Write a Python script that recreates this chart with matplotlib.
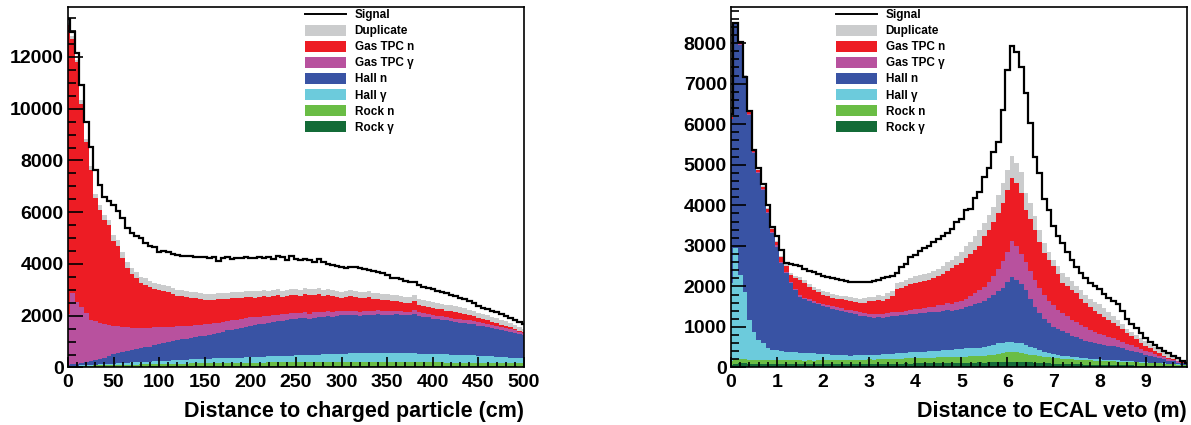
import numpy as np
import matplotlib as mpl
mpl.use('Agg')
import matplotlib.pyplot as plt
from matplotlib.patches import Patch
from matplotlib.lines import Line2D
from matplotlib.ticker import MultipleLocator

plt.rcParams['font.family'] = ['Liberation Sans', 'DejaVu Sans']
plt.rcParams['font.weight'] = 'bold'

# left panel: distance to charged particle, 5 cm bins centred on 0, 5, ... 500
# values are the upper edge of each stacked layer
L_signal = [13450, 12950, 12150, 10900, 9500, 8520, 7630, 7070, 6580, 6420,
            6290, 6060, 5770, 5380, 5190, 5100, 4990, 4800, 4710, 4670,
            4470, 4510, 4450, 4370, 4350, 4320, 4300, 4310, 4280, 4260,
            4270, 4240, 4260, 4110, 4250, 4270, 4200, 4230, 4250, 4270,
            4220, 4240, 4260, 4230, 4280, 4200, 4290, 4260, 4140, 4300,
            4180, 4160, 4200, 4160, 4080, 4190, 4070, 4000, 3960, 3920,
            3880, 3860, 3900, 3880, 3830, 3800, 3760, 3720, 3700, 3650,
            3560, 3460, 3440, 3420, 3340, 3300, 3320, 3200, 3100, 3060,
            3020, 2960, 2900, 2860, 2820, 2760, 2700, 2640, 2560, 2480,
            2380, 2310, 2250, 2190, 2130, 2080, 2000, 1930, 1840, 1760,
            1690]
L_dup = [13310, 12800, 11900, 10320, 8830, 7780, 6700, 6290, 5900, 5700,
         5120, 4930, 4470, 4090, 3830, 3700, 3500, 3440, 3330, 3280,
         3230, 3180, 3130, 3080, 3000, 2980, 2940, 2920, 2900, 2860,
         2830, 2850, 2840, 2870, 2890, 2880, 2910, 2930, 2920, 2950,
         2960, 2940, 2970, 2990, 2950, 2990, 3020, 2970, 3010, 3030,
         3050, 3010, 3060, 3020, 3040, 3070, 2990, 3030, 3000, 2950,
         2930, 2970, 2980, 2950, 2910, 2930, 2940, 2870, 2880, 2850,
         2830, 2790, 2800, 2760, 2730, 2710, 2790, 2630, 2610, 2580,
         2520, 2480, 2470, 2420, 2400, 2360, 2320, 2280, 2240, 2200,
         2100, 2060, 2020, 1960, 1900, 1840, 1780, 1720, 1640, 1560,
         1500]
L_gas_n = [13250, 12700, 11800, 10200, 8700, 7650, 6550, 6100, 5700, 5500,
           4900, 4700, 4250, 3850, 3600, 3450, 3280, 3200, 3100, 3050,
           3000, 2950, 2900, 2850, 2780, 2750, 2720, 2700, 2680, 2640,
           2600, 2620, 2610, 2640, 2660, 2650, 2680, 2700, 2690, 2720,
           2730, 2700, 2740, 2760, 2720, 2760, 2790, 2740, 2780, 2800,
           2820, 2780, 2830, 2790, 2810, 2840, 2760, 2800, 2770, 2720,
           2700, 2740, 2750, 2720, 2680, 2700, 2710, 2640, 2650, 2620,
           2600, 2560, 2570, 2530, 2500, 2480, 2560, 2400, 2380, 2350,
           2300, 2260, 2250, 2200, 2180, 2140, 2100, 2060, 2020, 1980,
           1920, 1880, 1830, 1770, 1720, 1660, 1600, 1550, 1480, 1420,
           1380]
L_gas_g = [2050, 2880, 2550, 2330, 2100, 1850, 1780, 1720, 1680, 1650,
           1620, 1600, 1580, 1560, 1540, 1520, 1520, 1520, 1540, 1550,
           1560, 1560, 1580, 1580, 1590, 1620, 1610, 1620, 1640, 1660,
           1680, 1690, 1710, 1730, 1770, 1810, 1820, 1850, 1880, 1910,
           1940, 1950, 1970, 1980, 2000, 2020, 2040, 2050, 2070, 2090,
           2100, 2120, 2130, 2080, 2140, 2145, 2160, 2180, 2150, 2180,
           2190, 2190, 2190, 2190, 2160, 2180, 2200, 2190, 2210, 2180,
           2190, 2180, 2190, 2170, 2160, 2160, 2210, 2130, 2100, 2070,
           2010, 2000, 1980, 1950, 1920, 1870, 1860, 1840, 1820, 1790,
           1740, 1720, 1670, 1650, 1600, 1550, 1520, 1480, 1430, 1380,
           1340]
L_hall_n = [100, 120, 150, 180, 220, 260, 300, 340, 380, 430,
            520, 550, 590, 620, 660, 710, 740, 780, 810, 860,
            910, 940, 980, 1010, 1050, 1100, 1110, 1140, 1170, 1200,
            1230, 1260, 1300, 1330, 1380, 1430, 1460, 1500, 1540, 1580,
            1620, 1640, 1670, 1690, 1720, 1750, 1780, 1800, 1830, 1860,
            1880, 1900, 1920, 1880, 1930, 1945, 1970, 1980, 1960, 2000,
            2010, 2020, 2010, 2020, 2000, 2010, 2040, 2030, 2060, 2020,
            2040, 2030, 2050, 2020, 2020, 2010, 2070, 1990, 1960, 1940,
            1880, 1860, 1850, 1820, 1790, 1750, 1730, 1720, 1700, 1670,
            1620, 1600, 1560, 1530, 1490, 1440, 1410, 1370, 1330, 1280,
            1240]
L_hall_g = [50, 60, 70, 80, 90, 100, 110, 120, 130, 140,
            150, 165, 170, 180, 195, 200, 210, 225, 230, 240,
            250, 260, 270, 280, 290, 300, 305, 315, 320, 330,
            340, 345, 350, 355, 365, 365, 375, 380, 380, 390,
            395, 405, 410, 415, 425, 430, 440, 445, 450, 460,
            465, 470, 480, 485, 490, 500, 505, 510, 520, 525,
            530, 535, 545, 545, 555, 550, 555, 550, 560, 555,
            555, 555, 555, 555, 545, 545, 545, 535, 535, 530,
            525, 515, 515, 505, 500, 490, 490, 480, 470, 465,
            455, 450, 440, 430, 420, 410, 400, 385, 375, 360,
            350]
L_rock_n = [50, 55, 60, 65, 70, 75, 80, 85, 90, 95,
            100, 105, 105, 110, 115, 115, 120, 125, 125, 130,
            130, 135, 140, 140, 145, 150, 150, 155, 160, 160,
            165, 165, 170, 170, 175, 175, 180, 180, 180, 185,
            185, 190, 190, 190, 195, 195, 200, 200, 200, 205,
            205, 205, 210, 210, 210, 215, 215, 215, 220, 220,
            220, 220, 225, 220, 225, 220, 220, 215, 220, 215,
            215, 210, 215, 210, 205, 210, 205, 200, 205, 200,
            200, 195, 195, 190, 190, 185, 190, 185, 180, 180,
            175, 180, 175, 170, 170, 165, 170, 165, 160, 160,
            155]
L_rock_g = [20, 25, 25, 30, 25, 30, 30, 35, 30, 35,
            35, 30, 35, 40, 35, 35, 40, 35, 40, 40,
            40, 35, 40, 45, 40, 40, 45, 40, 45, 40,
            45, 40, 45, 45, 40, 45, 50, 45, 45, 50,
            45, 50, 45, 50, 50, 45, 50, 50, 55, 50,
            50, 55, 50, 55, 50, 50, 55, 50, 55, 50,
            55, 50, 50, 55, 50, 55, 50, 50, 55, 50,
            50, 55, 50, 50, 45, 50, 50, 45, 50, 45,
            50, 45, 45, 50, 45, 45, 40, 45, 45, 40,
            45, 40, 40, 45, 40, 40, 35, 40, 40, 35,
            40]

# right panel: distance to ECAL veto, 0.1 m bins centred on 0.0 ... 9.9
R_signal = [6250, 8500, 8030, 7170, 6330, 5360, 4910, 4520, 4000, 3470,
            3240, 2900, 2570, 2560, 2540, 2500, 2430, 2380, 2350, 2300,
            2250, 2230, 2200, 2190, 2170, 2130, 2100, 2100, 2120, 2100,
            2110, 2140, 2170, 2200, 2240, 2260, 2320, 2480, 2550, 2720,
            2780, 2870, 2950, 2990, 3090, 3170, 3240, 3320, 3420, 3600,
            3650, 3880, 3900, 4180, 4330, 4710, 4910, 5320, 5570, 6360,
            7330, 7930, 7780, 7410, 6760, 6020, 5200, 4790, 4150, 3890,
            3480, 3250, 3070, 2850, 2660, 2480, 2330, 2200, 2090, 2000,
            1925, 1820, 1720, 1640, 1560, 1400, 1190, 1080, 980, 850,
            720, 640, 560, 480, 410, 350, 290, 230, 170, 120]
R_dup = [6200, 8520, 8020, 7220, 6320, 5360, 4880, 4480, 3930, 3450,
         3130, 2760, 2550, 2340, 2260, 2220, 2160, 2070, 1990, 1940,
         1890, 1850, 1820, 1790, 1770, 1760, 1740, 1710, 1700, 1720,
         1740, 1730, 1780, 1770, 1830, 1880, 2090, 2110, 2160, 2200,
         2250, 2280, 2300, 2340, 2380, 2440, 2500, 2590, 2660, 2760,
         2850, 2990, 3100, 3250, 3400, 3560, 3750, 3960, 4260, 4560,
         4870, 5220, 5040, 4830, 4300, 4050, 3730, 3400, 3070, 2860,
         2660, 2500, 2330, 2240, 2140, 2010, 1900, 1800, 1700, 1620,
         1560, 1460, 1380, 1270, 1170, 1065, 960, 880, 800, 720,
         655, 580, 510, 450, 380, 330, 270, 210, 160, 115]
R_gas_n = [6170, 8500, 8000, 7200, 6300, 5340, 4860, 4460, 3900, 3420,
           3100, 2720, 2500, 2280, 2200, 2150, 2080, 1980, 1900, 1850,
           1800, 1760, 1720, 1700, 1680, 1660, 1650, 1620, 1600, 1600,
           1640, 1630, 1660, 1650, 1700, 1760, 1940, 1960, 2000, 2050,
           2090, 2110, 2130, 2160, 2200, 2250, 2300, 2380, 2450, 2520,
           2580, 2700, 2800, 2900, 3000, 3235, 3400, 3580, 3800, 4050,
           4380, 4670, 4560, 4300, 3880, 3650, 3400, 3100, 2830, 2650,
           2500, 2300, 2090, 2000, 1920, 1840, 1700, 1580, 1480, 1390,
           1310, 1240, 1180, 1100, 1020, 940, 860, 780, 700, 610,
           530, 470, 410, 350, 290, 245, 200, 165, 130, 105]
R_gas_g = [6140, 8490, 7980, 7160, 6260, 5310, 4820, 4410, 3830, 3340,
           3010, 2600, 2350, 2110, 1940, 1780, 1720, 1680, 1640, 1600,
           1570, 1540, 1510, 1490, 1460, 1430, 1410, 1390, 1360, 1340,
           1330, 1310, 1330, 1310, 1340, 1360, 1370, 1380, 1400, 1410,
           1440, 1450, 1470, 1490, 1500, 1530, 1550, 1590, 1570, 1620,
           1650, 1700, 1760, 1830, 1900, 1990, 2100, 2250, 2420, 2620,
           2850, 3120, 3000, 2800, 2600, 2380, 2150, 1950, 1780, 1640,
           1530, 1430, 1340, 1260, 1180, 1110, 1050, 990, 930, 880,
           820, 790, 750, 720, 680, 640, 590, 550, 500, 450,
           410, 370, 330, 290, 250, 210, 180, 150, 120, 100]
R_hall_n = [6120, 8470, 7950, 7130, 6225, 5280, 4790, 4375, 3800, 3310,
            2980, 2570, 2320, 2080, 1910, 1745, 1690, 1640, 1600, 1560,
            1520, 1480, 1450, 1420, 1390, 1360, 1340, 1310, 1280, 1260,
            1250, 1230, 1240, 1220, 1250, 1270, 1280, 1290, 1300, 1310,
            1330, 1340, 1350, 1360, 1370, 1380, 1390, 1420, 1400, 1430,
            1450, 1480, 1520, 1560, 1600, 1650, 1720, 1800, 1880, 1960,
            2100, 2220, 2160, 2050, 1900, 1700, 1500, 1350, 1200, 1100,
            1000, 960, 900, 840, 780, 740, 700, 660, 620, 600,
            580, 560, 540, 520, 500, 470, 440, 410, 380, 350,
            320, 290, 260, 230, 200, 170, 150, 120, 100, 80]
R_hall_g = [2080, 2950, 2280, 1870, 1170, 880, 680, 600, 470, 430,
            420, 400, 390, 380, 370, 360, 360, 350, 350, 340,
            340, 330, 320, 310, 300, 300, 290, 300, 300, 310,
            310, 320, 320, 330, 330, 340, 350, 350, 360, 370,
            380, 380, 390, 400, 410, 410, 420, 430, 440, 450,
            460, 470, 470, 480, 490, 500, 520, 560, 600, 610,
            620, 630, 610, 600, 560, 500, 470, 420, 380, 350,
            330, 310, 290, 280, 260, 250, 240, 230, 220, 210,
            200, 195, 190, 180, 175, 170, 160, 150, 140, 130,
            125, 120, 110, 105, 100, 90, 80, 75, 65, 60]
R_rock_n = [150, 200, 210, 200, 195, 190, 185, 185, 180, 180,
            175, 180, 175, 175, 180, 175, 170, 175, 170, 175,
            180, 175, 180, 185, 180, 185, 190, 185, 190, 195,
            200, 195, 205, 210, 205, 215, 220, 215, 225, 230,
            235, 230, 240, 245, 240, 250, 255, 250, 260, 265,
            270, 265, 275, 280, 285, 290, 300, 310, 330, 350,
            370, 390, 380, 360, 340, 320, 300, 280, 260, 250,
            240, 230, 220, 210, 200, 195, 190, 180, 175, 170,
            165, 160, 155, 150, 145, 140, 135, 130, 125, 120,
            115, 110, 105, 100, 95, 90, 80, 70, 60, 55]
R_rock_g = [60, 90, 100, 100, 95, 95, 90, 90, 90, 85,
            85, 80, 85, 80, 80, 85, 80, 80, 75, 80,
            80, 75, 80, 80, 75, 80, 80, 85, 80, 85,
            85, 90, 85, 90, 90, 95, 90, 95, 100, 95,
            100, 100, 105, 100, 105, 110, 105, 110, 110, 115,
            115, 120, 115, 120, 125, 120, 125, 130, 130, 135,
            140, 145, 140, 135, 130, 125, 120, 110, 105, 100,
            95, 90, 85, 85, 80, 75, 75, 70, 70, 65,
            65, 60, 60, 55, 55, 50, 50, 50, 45, 45,
            45, 40, 40, 40, 35, 35, 35, 30, 30, 30]

labels = ['Duplicate', 'Gas TPC n', 'Gas TPC γ', 'Hall n', 'Hall γ', 'Rock n', 'Rock γ']
colors = ['#cbcccd', '#ed1c24', '#b8519e', '#3953a4', '#6ccbdc', '#6abd45', '#136b37']


def draw_panel(ax, edges, signal, tops, xlim, ylim, xmajor, xminor, ymajor, yminor,
               xlabel, leg_x):
    # tops: upper edge of each layer, bottom layer first
    levels = np.maximum.accumulate(np.array(tops, dtype=float), axis=0)
    base = np.zeros(levels.shape[1])
    for lev, c in zip(levels, colors[::-1]):
        ax.stairs(lev, edges, baseline=base, fill=True, color=c, lw=0)
        base = lev
    ax.stairs(signal, edges, color='black', lw=1.6)

    ax.set_xlim(xlim)
    ax.set_ylim(ylim)
    ax.xaxis.set_major_locator(MultipleLocator(xmajor))
    ax.xaxis.set_minor_locator(MultipleLocator(xminor))
    ax.yaxis.set_major_locator(MultipleLocator(ymajor))
    ax.yaxis.set_minor_locator(MultipleLocator(yminor))
    ax.tick_params(axis='both', which='both', direction='in', width=1.2,
                   top=False, right=False, labelsize=14)
    ax.tick_params(axis='y', which='major', length=11, pad=3)
    ax.tick_params(axis='y', which='minor', length=5.5)
    ax.tick_params(axis='x', which='major', length=7, pad=5)
    ax.tick_params(axis='x', which='minor', length=3.5)
    for sp in ax.spines.values():
        sp.set_linewidth(1.2)
    for lab in ax.get_xticklabels() + ax.get_yticklabels():
        lab.set_fontweight('bold')
    ax.set_xlabel(xlabel, loc='right', fontsize=15.5, fontweight='bold', labelpad=7)

    handles = [Line2D([], [], color='black', lw=1.4)]
    handles += [Patch(facecolor=c, edgecolor='none') for c in colors]
    ax.legend(handles, ['Signal'] + labels, loc='upper left', bbox_to_anchor=(leg_x, 0.995),
              frameon=False, fontsize=8.5, prop={'weight': 'bold', 'size': 8.5},
              handlelength=3.5, handleheight=1.05, handletextpad=0.7,
              labelspacing=0.3, borderpad=0, borderaxespad=0)


fig = plt.figure(figsize=(11.91, 4.25), dpi=100)
axL = fig.add_axes([0.0571, 0.1353, 0.3829, 0.8482])
axR = fig.add_axes([0.6138, 0.1353, 0.3829, 0.8482])

edges_L = np.linspace(-2.5, 502.5, 102)
edges_R = np.linspace(-0.05, 9.95, 101)

draw_panel(axL, edges_L, L_signal,
           [L_rock_g, L_rock_n, L_hall_g, L_hall_n, L_gas_g, L_gas_n, L_dup],
           (0, 500), (0, 13930), 50, 10, 2000, 500,
           'Distance to charged particle (cm)', 0.52)
draw_panel(axR, edges_R, R_signal,
           [R_rock_g, R_rock_n, R_hall_g, R_hall_n, R_gas_g, R_gas_n, R_dup],
           (0, 9.9), (0, 8890), 1, 0.2, 1000, 200,
           'Distance to ECAL veto (m)', 0.23)

fig.savefig('out.png', dpi=100)
